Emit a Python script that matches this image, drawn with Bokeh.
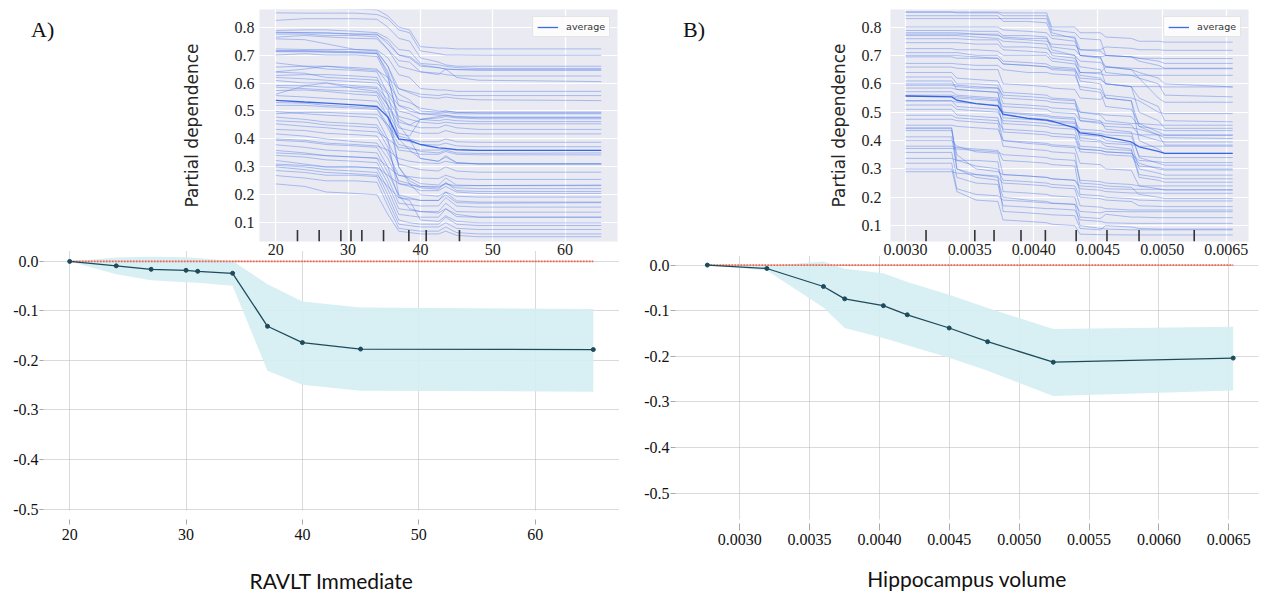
from bokeh.plotting import figure
from bokeh.models import Range1d, FixedTicker, Div
from bokeh.layouts import row, column
from bokeh.embed import file_html
from bokeh.resources import INLINE

# ---------------- data: panel A (RAVLT Immediate) ----------------
ravlt_grid = [20, 24, 27, 31, 34, 35.5, 37, 38.5, 40, 42.5, 43.5, 45, 48, 65]
ravlt_ice = [
    [0.866, 0.866, 0.866, 0.865, 0.862, 0.84, 0.80, 0.79, 0.73, 0.725, 0.725, 0.722, 0.722, 0.722],
    [0.851, 0.850, 0.850, 0.850, 0.845, 0.83, 0.79, 0.78, 0.715, 0.705, 0.700, 0.700, 0.699, 0.699],
    [0.824, 0.830, 0.830, 0.830, 0.828, 0.80, 0.76, 0.75, 0.690, 0.675, 0.665, 0.660, 0.660, 0.660],
    [0.788, 0.790, 0.790, 0.785, 0.780, 0.76, 0.72, 0.715, 0.670, 0.665, 0.660, 0.655, 0.652, 0.652],
    [0.782, 0.780, 0.780, 0.775, 0.775, 0.74, 0.70, 0.695, 0.665, 0.655, 0.650, 0.648, 0.645, 0.645],
    [0.780, 0.780, 0.778, 0.775, 0.772, 0.75, 0.70, 0.690, 0.660, 0.655, 0.650, 0.648, 0.648, 0.648],
    [0.775, 0.775, 0.770, 0.770, 0.765, 0.72, 0.66, 0.650, 0.640, 0.630, 0.650, 0.620, 0.610, 0.605],
    [0.764, 0.770, 0.765, 0.760, 0.758, 0.72, 0.68, 0.675, 0.640, 0.635, 0.630, 0.626, 0.625, 0.625],
    [0.758, 0.755, 0.740, 0.720, 0.715, 0.66, 0.58, 0.570, 0.560, 0.555, 0.560, 0.555, 0.555, 0.555],
    [0.722, 0.720, 0.720, 0.720, 0.718, 0.69, 0.63, 0.620, 0.580, 0.575, 0.575, 0.570, 0.570, 0.570],
    [0.715, 0.715, 0.712, 0.710, 0.705, 0.64, 0.52, 0.500, 0.490, 0.490, 0.495, 0.490, 0.490, 0.490],
    [0.715, 0.715, 0.715, 0.712, 0.710, 0.66, 0.56, 0.540, 0.500, 0.495, 0.500, 0.495, 0.493, 0.493],
    [0.712, 0.712, 0.710, 0.708, 0.705, 0.63, 0.45, 0.400, 0.330, 0.320, 0.335, 0.315, 0.310, 0.310],
    [0.700, 0.705, 0.700, 0.700, 0.695, 0.62, 0.47, 0.450, 0.440, 0.440, 0.450, 0.440, 0.434, 0.434],
    [0.672, 0.660, 0.650, 0.645, 0.640, 0.56, 0.40, 0.360, 0.330, 0.320, 0.340, 0.315, 0.311, 0.311],
    [0.657, 0.660, 0.660, 0.655, 0.650, 0.60, 0.54, 0.530, 0.510, 0.500, 0.500, 0.495, 0.496, 0.496],
    [0.640, 0.650, 0.660, 0.650, 0.645, 0.62, 0.58, 0.565, 0.550, 0.545, 0.550, 0.545, 0.540, 0.537],
    [0.639, 0.635, 0.620, 0.615, 0.610, 0.57, 0.52, 0.510, 0.490, 0.485, 0.485, 0.480, 0.478, 0.478],
    [0.627, 0.630, 0.630, 0.625, 0.620, 0.52, 0.30, 0.250, 0.230, 0.225, 0.240, 0.225, 0.222, 0.222],
    [0.620, 0.615, 0.610, 0.605, 0.600, 0.56, 0.50, 0.490, 0.470, 0.465, 0.470, 0.465, 0.462, 0.462],
    [0.609, 0.600, 0.600, 0.590, 0.585, 0.54, 0.48, 0.470, 0.460, 0.455, 0.460, 0.455, 0.454, 0.454],
    [0.591, 0.590, 0.585, 0.585, 0.580, 0.52, 0.46, 0.450, 0.470, 0.475, 0.480, 0.475, 0.472, 0.472],
    [0.585, 0.580, 0.575, 0.570, 0.565, 0.50, 0.42, 0.410, 0.470, 0.480, 0.485, 0.478, 0.476, 0.476],
    [0.573, 0.575, 0.570, 0.560, 0.555, 0.48, 0.30, 0.240, 0.200, 0.195, 0.210, 0.195, 0.192, 0.192],
    [0.560, 0.590, 0.600, 0.580, 0.570, 0.52, 0.44, 0.430, 0.420, 0.420, 0.430, 0.420, 0.418, 0.418],
    [0.555, 0.550, 0.545, 0.540, 0.535, 0.48, 0.41, 0.400, 0.390, 0.390, 0.400, 0.390, 0.388, 0.388],
    [0.530, 0.528, 0.520, 0.515, 0.510, 0.45, 0.38, 0.370, 0.355, 0.350, 0.360, 0.350, 0.348, 0.350],
    [0.520, 0.520, 0.515, 0.510, 0.505, 0.44, 0.36, 0.355, 0.345, 0.345, 0.355, 0.345, 0.343, 0.343],
    [0.498, 0.490, 0.485, 0.480, 0.475, 0.40, 0.20, 0.150, 0.140, 0.135, 0.150, 0.130, 0.120, 0.120],
    [0.490, 0.495, 0.495, 0.490, 0.488, 0.45, 0.40, 0.390, 0.380, 0.378, 0.385, 0.375, 0.372, 0.372],
    [0.478, 0.470, 0.460, 0.455, 0.450, 0.39, 0.31, 0.300, 0.290, 0.285, 0.300, 0.285, 0.281, 0.281],
    [0.465, 0.460, 0.450, 0.445, 0.440, 0.37, 0.24, 0.230, 0.215, 0.215, 0.230, 0.210, 0.205, 0.205],
    [0.454, 0.445, 0.440, 0.430, 0.425, 0.40, 0.37, 0.365, 0.360, 0.360, 0.365, 0.360, 0.359, 0.359],
    [0.434, 0.430, 0.420, 0.415, 0.410, 0.35, 0.27, 0.260, 0.240, 0.235, 0.260, 0.235, 0.233, 0.233],
    [0.418, 0.410, 0.400, 0.390, 0.385, 0.33, 0.25, 0.240, 0.225, 0.220, 0.245, 0.215, 0.212, 0.212],
    [0.400, 0.395, 0.385, 0.380, 0.375, 0.36, 0.33, 0.320, 0.315, 0.312, 0.320, 0.312, 0.311, 0.311],
    [0.395, 0.390, 0.380, 0.375, 0.370, 0.30, 0.19, 0.180, 0.110, 0.105, 0.125, 0.105, 0.100, 0.100],
    [0.379, 0.370, 0.360, 0.355, 0.350, 0.28, 0.20, 0.190, 0.180, 0.180, 0.210, 0.178, 0.174, 0.174],
    [0.359, 0.350, 0.340, 0.335, 0.330, 0.26, 0.17, 0.165, 0.160, 0.160, 0.190, 0.160, 0.156, 0.156],
    [0.350, 0.345, 0.340, 0.335, 0.332, 0.30, 0.27, 0.265, 0.260, 0.258, 0.270, 0.258, 0.255, 0.255],
    [0.341, 0.335, 0.325, 0.320, 0.315, 0.24, 0.15, 0.145, 0.140, 0.140, 0.170, 0.140, 0.138, 0.138],
    [0.323, 0.310, 0.300, 0.300, 0.295, 0.22, 0.13, 0.125, 0.120, 0.120, 0.150, 0.122, 0.120, 0.120],
    [0.310, 0.305, 0.300, 0.300, 0.298, 0.27, 0.24, 0.235, 0.230, 0.230, 0.240, 0.232, 0.233, 0.235],
    [0.305, 0.300, 0.290, 0.285, 0.280, 0.20, 0.11, 0.100, 0.095, 0.095, 0.120, 0.095, 0.090, 0.090],
    [0.300, 0.290, 0.280, 0.275, 0.270, 0.23, 0.19, 0.185, 0.180, 0.180, 0.200, 0.172, 0.170, 0.172],
    [0.287, 0.280, 0.270, 0.270, 0.265, 0.18, 0.095, 0.090, 0.085, 0.085, 0.100, 0.080, 0.076, 0.076],
    [0.269, 0.260, 0.250, 0.250, 0.245, 0.16, 0.08, 0.075, 0.070, 0.070, 0.085, 0.065, 0.060, 0.060],
    [0.239, 0.230, 0.210, 0.205, 0.200, 0.13, 0.07, 0.065, 0.060, 0.060, 0.070, 0.055, 0.050, 0.050],
]
ravlt_avg = [0.538, 0.532, 0.528, 0.522, 0.516, 0.478, 0.400, 0.395, 0.380, 0.368, 0.366, 0.362, 0.359, 0.359]
ravlt_deciles = [23.0, 26.0, 29.0, 30.4, 31.9, 34.9, 38.4, 40.8, 45.4]

ravlt_ale_x = [20, 24, 27, 30, 31, 34, 37, 40, 45, 65]
ravlt_ale = [0.0, -0.009, -0.016, -0.018, -0.020, -0.024, -0.131, -0.164, -0.177, -0.178]
ravlt_ale_hi = [0.0, 0.008, 0.0095, 0.0085, 0.007, 0.001, -0.046, -0.081, -0.093, -0.096]
ravlt_ale_lo = [0.0, -0.026, -0.038, -0.042, -0.043, -0.049, -0.221, -0.249, -0.261, -0.263]

# ---------------- data: panel B (Hippocampus volume) ----------------
hippo_grid = [0.00300, 0.00336, 0.00340, 0.00355, 0.00372, 0.00376, 0.00395, 0.00410, 0.00414,
              0.00432, 0.00436, 0.00452, 0.00456, 0.00476, 0.00482, 0.00497, 0.00502, 0.00555]
hippo_ice = [
    [0.853, 0.853, 0.853, 0.853, 0.853, 0.850, 0.850, 0.850, 0.800, 0.800, 0.780, 0.780, 0.765, 0.760, 0.750, 0.750, 0.747, 0.747],
    [0.853, 0.853, 0.850, 0.850, 0.850, 0.840, 0.840, 0.840, 0.790, 0.780, 0.760, 0.755, 0.700, 0.695, 0.680, 0.665, 0.655, 0.655],
    [0.840, 0.840, 0.840, 0.840, 0.840, 0.820, 0.820, 0.815, 0.770, 0.765, 0.720, 0.720, 0.730, 0.725, 0.720, 0.720, 0.718, 0.718],
    [0.830, 0.830, 0.830, 0.830, 0.830, 0.830, 0.830, 0.830, 0.780, 0.760, 0.700, 0.690, 0.660, 0.650, 0.640, 0.620, 0.600, 0.589],
    [0.800, 0.800, 0.800, 0.800, 0.800, 0.790, 0.785, 0.780, 0.760, 0.750, 0.700, 0.695, 0.640, 0.630, 0.620, 0.550, 0.535, 0.535],
    [0.788, 0.788, 0.788, 0.785, 0.785, 0.770, 0.770, 0.765, 0.730, 0.720, 0.700, 0.695, 0.700, 0.695, 0.690, 0.690, 0.689, 0.689],
    [0.780, 0.780, 0.780, 0.775, 0.775, 0.760, 0.755, 0.750, 0.740, 0.735, 0.720, 0.715, 0.700, 0.695, 0.690, 0.680, 0.672, 0.672],
    [0.775, 0.775, 0.775, 0.775, 0.770, 0.765, 0.760, 0.760, 0.720, 0.700, 0.640, 0.640, 0.660, 0.650, 0.620, 0.600, 0.560, 0.554],
    [0.770, 0.770, 0.770, 0.765, 0.760, 0.750, 0.745, 0.740, 0.700, 0.690, 0.660, 0.650, 0.600, 0.590, 0.500, 0.470, 0.443, 0.443],
    [0.759, 0.759, 0.759, 0.755, 0.755, 0.730, 0.730, 0.725, 0.710, 0.700, 0.680, 0.675, 0.660, 0.655, 0.654, 0.653, 0.653, 0.653],
    [0.745, 0.745, 0.745, 0.740, 0.740, 0.720, 0.715, 0.710, 0.690, 0.680, 0.630, 0.620, 0.600, 0.590, 0.550, 0.520, 0.470, 0.466],
    [0.724, 0.724, 0.720, 0.720, 0.715, 0.700, 0.700, 0.700, 0.680, 0.670, 0.640, 0.635, 0.630, 0.630, 0.630, 0.630, 0.630, 0.630],
    [0.710, 0.710, 0.710, 0.700, 0.700, 0.680, 0.675, 0.670, 0.660, 0.655, 0.610, 0.600, 0.550, 0.540, 0.450, 0.420, 0.410, 0.407],
    [0.700, 0.700, 0.700, 0.695, 0.690, 0.670, 0.665, 0.660, 0.650, 0.645, 0.580, 0.570, 0.520, 0.510, 0.460, 0.430, 0.420, 0.420],
    [0.695, 0.695, 0.690, 0.690, 0.690, 0.670, 0.665, 0.660, 0.655, 0.650, 0.620, 0.615, 0.600, 0.590, 0.590, 0.590, 0.589, 0.589],
    [0.672, 0.672, 0.670, 0.665, 0.665, 0.650, 0.640, 0.640, 0.635, 0.630, 0.590, 0.580, 0.550, 0.540, 0.400, 0.370, 0.355, 0.355],
    [0.659, 0.659, 0.655, 0.650, 0.650, 0.600, 0.595, 0.590, 0.585, 0.580, 0.550, 0.545, 0.560, 0.550, 0.540, 0.500, 0.495, 0.495],
    [0.640, 0.640, 0.620, 0.615, 0.610, 0.570, 0.565, 0.560, 0.550, 0.545, 0.470, 0.460, 0.450, 0.445, 0.440, 0.420, 0.384, 0.384],
    [0.624, 0.624, 0.600, 0.600, 0.595, 0.550, 0.545, 0.540, 0.535, 0.530, 0.480, 0.470, 0.440, 0.430, 0.340, 0.320, 0.313, 0.313],
    [0.610, 0.610, 0.580, 0.575, 0.570, 0.480, 0.475, 0.470, 0.465, 0.460, 0.410, 0.400, 0.390, 0.385, 0.380, 0.380, 0.380, 0.380],
    [0.600, 0.600, 0.595, 0.590, 0.585, 0.530, 0.525, 0.520, 0.515, 0.510, 0.500, 0.495, 0.490, 0.485, 0.450, 0.440, 0.435, 0.435],
    [0.595, 0.595, 0.590, 0.585, 0.585, 0.560, 0.555, 0.550, 0.545, 0.540, 0.500, 0.490, 0.470, 0.460, 0.460, 0.455, 0.454, 0.454],
    [0.585, 0.585, 0.580, 0.575, 0.570, 0.500, 0.490, 0.485, 0.480, 0.475, 0.420, 0.415, 0.400, 0.390, 0.300, 0.285, 0.278, 0.278],
    [0.572, 0.572, 0.560, 0.555, 0.550, 0.490, 0.480, 0.475, 0.470, 0.465, 0.440, 0.435, 0.430, 0.425, 0.420, 0.420, 0.418, 0.418],
    [0.560, 0.560, 0.555, 0.550, 0.545, 0.430, 0.425, 0.420, 0.415, 0.410, 0.360, 0.355, 0.350, 0.345, 0.310, 0.305, 0.300, 0.300],
    [0.557, 0.555, 0.550, 0.545, 0.540, 0.520, 0.515, 0.510, 0.500, 0.495, 0.470, 0.465, 0.460, 0.455, 0.420, 0.400, 0.395, 0.395],
    [0.540, 0.540, 0.520, 0.515, 0.510, 0.460, 0.455, 0.450, 0.445, 0.440, 0.380, 0.375, 0.370, 0.365, 0.270, 0.260, 0.253, 0.253],
    [0.540, 0.540, 0.535, 0.530, 0.525, 0.500, 0.495, 0.490, 0.485, 0.480, 0.400, 0.395, 0.380, 0.370, 0.280, 0.270, 0.265, 0.265],
    [0.525, 0.525, 0.510, 0.505, 0.500, 0.470, 0.465, 0.460, 0.455, 0.450, 0.430, 0.425, 0.420, 0.415, 0.345, 0.340, 0.340, 0.340],
    [0.510, 0.510, 0.490, 0.485, 0.480, 0.400, 0.390, 0.385, 0.380, 0.375, 0.320, 0.315, 0.300, 0.295, 0.240, 0.230, 0.226, 0.226],
    [0.489, 0.489, 0.480, 0.475, 0.470, 0.440, 0.435, 0.430, 0.425, 0.420, 0.370, 0.365, 0.360, 0.355, 0.320, 0.300, 0.296, 0.296],
    [0.475, 0.475, 0.470, 0.465, 0.460, 0.380, 0.370, 0.365, 0.360, 0.355, 0.250, 0.245, 0.240, 0.235, 0.210, 0.200, 0.196, 0.196],
    [0.454, 0.454, 0.450, 0.445, 0.440, 0.400, 0.395, 0.390, 0.385, 0.380, 0.370, 0.365, 0.360, 0.355, 0.330, 0.325, 0.322, 0.322],
    [0.445, 0.445, 0.300, 0.280, 0.270, 0.250, 0.245, 0.240, 0.235, 0.230, 0.170, 0.165, 0.160, 0.155, 0.155, 0.155, 0.155, 0.155],
    [0.442, 0.442, 0.330, 0.310, 0.300, 0.260, 0.255, 0.250, 0.245, 0.240, 0.200, 0.195, 0.190, 0.185, 0.170, 0.168, 0.167, 0.167],
    [0.435, 0.435, 0.350, 0.300, 0.290, 0.280, 0.275, 0.270, 0.265, 0.260, 0.230, 0.225, 0.220, 0.215, 0.215, 0.215, 0.214, 0.214],
    [0.413, 0.413, 0.300, 0.270, 0.260, 0.200, 0.190, 0.185, 0.180, 0.175, 0.150, 0.145, 0.150, 0.149, 0.149, 0.149, 0.149, 0.149],
    [0.400, 0.400, 0.380, 0.360, 0.355, 0.280, 0.275, 0.270, 0.265, 0.260, 0.240, 0.235, 0.230, 0.228, 0.228, 0.228, 0.226, 0.226],
    [0.380, 0.380, 0.375, 0.370, 0.365, 0.330, 0.325, 0.320, 0.315, 0.310, 0.210, 0.205, 0.200, 0.195, 0.190, 0.188, 0.187, 0.187],
    [0.372, 0.372, 0.370, 0.365, 0.360, 0.350, 0.345, 0.340, 0.335, 0.330, 0.260, 0.255, 0.250, 0.245, 0.240, 0.240, 0.240, 0.240],
    [0.358, 0.358, 0.270, 0.250, 0.245, 0.170, 0.165, 0.160, 0.160, 0.155, 0.120, 0.115, 0.110, 0.108, 0.108, 0.108, 0.108, 0.108],
    [0.337, 0.337, 0.330, 0.330, 0.325, 0.220, 0.215, 0.210, 0.205, 0.200, 0.130, 0.125, 0.140, 0.130, 0.130, 0.128, 0.128, 0.128],
    [0.320, 0.320, 0.230, 0.210, 0.205, 0.190, 0.185, 0.180, 0.178, 0.175, 0.100, 0.090, 0.088, 0.085, 0.085, 0.085, 0.085, 0.085],
    [0.300, 0.300, 0.220, 0.190, 0.185, 0.120, 0.115, 0.110, 0.105, 0.100, 0.070, 0.068, 0.068, 0.067, 0.067, 0.067, 0.067, 0.067],
    [0.290, 0.290, 0.285, 0.280, 0.275, 0.150, 0.145, 0.140, 0.138, 0.135, 0.090, 0.085, 0.100, 0.095, 0.090, 0.088, 0.088, 0.088],
]
hippo_avg = [0.557, 0.554, 0.542, 0.530, 0.522, 0.493, 0.478, 0.472, 0.468, 0.445, 0.427, 0.418, 0.413,
             0.395, 0.378, 0.362, 0.355, 0.355]
hippo_deciles = [0.00316, 0.00354, 0.00369, 0.00390, 0.00409, 0.00433, 0.00457, 0.00482, 0.00525]

hippo_ale_x = [0.002768, 0.003194, 0.003599, 0.003751, 0.004028, 0.004199, 0.004499, 0.004774, 0.005244, 0.006532]
hippo_ale = [0.0, -0.0075, -0.047, -0.074, -0.089, -0.109, -0.138, -0.168, -0.213, -0.204]
hippo_ale_hi = [0.0, -0.002, 0.008, -0.008, -0.018, -0.037, -0.065, -0.094, -0.140, -0.135]
hippo_ale_lo = [0.0, -0.012, -0.093, -0.138, -0.160, -0.176, -0.203, -0.232, -0.287, -0.275]

# ---------------- ticks / labels ----------------
inset_y_ticks = [0.1, 0.2, 0.3, 0.4, 0.5, 0.6, 0.7, 0.8]
ravlt_ticks = [20, 30, 40, 50, 60]
ravlt_labels = ["20", "30", "40", "50", "60"]
hippo_inset_ticks = [0.003, 0.0035, 0.004, 0.0045, 0.005, 0.0055]
hippo_inset_labels = ["0.0030", "0.0035", "0.0040", "0.0045", "0.0050", "0.0065"]
hippo_ticks = [0.003, 0.0035, 0.004, 0.0045, 0.005, 0.0055, 0.006, 0.0065]
hippo_labels = ["0.0030", "0.0035", "0.0040", "0.0045", "0.0050", "0.0055", "0.0060", "0.0065"]
ale_y_ticks = [0.0, -0.1, -0.2, -0.3, -0.4, -0.5]
ale_y_labels = ["0.0", "-0.1", "-0.2", "-0.3", "-0.4", "-0.5"]

SERIF = "Liberation Serif, Times New Roman, serif"
ICE_COLOR = "#4070e8"
AVG_COLOR = "#2a5ce0"
ALE_COLOR = "#1d4b5b"
BAND_COLOR = "#d4edf3"


def make_inset(grid, ice, avg, deciles, x_rng, y_rng, fw, mbl, mbr, xticks, xlabels, lab_standoff, tick_standoff):
    p = figure(frame_width=fw, frame_height=232, x_range=Range1d(*x_rng), y_range=Range1d(*y_rng),
               min_border_left=mbl, min_border_right=mbr, min_border_top=9, min_border_bottom=21,
               output_backend="svg", toolbar_location=None)
    p.background_fill_color = "#EAEAF2"
    p.border_fill_color = "white"
    p.outline_line_color = None
    p.xaxis.ticker = FixedTicker(ticks=xticks)
    p.yaxis.ticker = FixedTicker(ticks=inset_y_ticks)
    p.xaxis.major_label_overrides = {t: l for t, l in zip(xticks, xlabels)}
    p.grid.grid_line_color = "white"
    p.grid.grid_line_width = 1.2
    p.axis.axis_line_color = None
    p.axis.major_tick_line_color = None
    p.axis.minor_tick_line_color = None
    p.axis.major_tick_out = 0
    p.axis.major_tick_in = 0
    p.xaxis.major_label_text_font = SERIF
    p.yaxis.major_label_text_font = SERIF
    p.xaxis.major_label_text_font_size = "16px"
    p.yaxis.major_label_text_font_size = "16px"
    p.axis.major_label_text_color = "#222222"
    p.xaxis.major_label_standoff = 2
    p.yaxis.major_label_standoff = tick_standoff
    p.yaxis.axis_label = "Partial dependence"
    p.yaxis.axis_label_text_font = "DejaVu Sans"
    p.yaxis.axis_label_text_font_size = "17px"
    p.yaxis.axis_label_text_font_style = "normal"
    p.yaxis.axis_label_text_color = "#262626"
    p.yaxis.axis_label_standoff = lab_standoff

    p.multi_line(xs=[grid] * len(ice), ys=ice, line_color=ICE_COLOR, line_alpha=0.4, line_width=1)
    p.line(grid, avg, line_color=AVG_COLOR, line_alpha=0.9, line_width=1.3, legend_label="average")
    y0 = y_rng[0]
    y1 = y_rng[0] + 0.05 * (y_rng[1] - y_rng[0])
    p.segment(x0=deciles, y0=[y0] * len(deciles), x1=deciles, y1=[y1] * len(deciles),
              line_color="#333333", line_width=1.6)

    lg = p.legend[0]
    lg.location = "top_right"
    lg.margin = 7
    lg.padding = 4
    lg.spacing = 0
    lg.glyph_width = 21
    lg.glyph_height = 10
    lg.label_height = 10
    lg.label_standoff = 8
    lg.label_text_font = "DejaVu Sans"
    lg.label_text_font_size = "9.5px"
    lg.label_text_color = "#333333"
    lg.border_line_color = "#cccccc"
    lg.background_fill_alpha = 0.85
    return p


def make_ale(xv, yv, hi, lo, x_rng, y_rng, fw, fh, mbl, mbr, mbt, mbb, xticks, xlabels, xlabel,
             tick_in, tick_out, lab_standoff, label_standoff, ytick_out):
    p = figure(frame_width=fw, frame_height=fh, x_range=Range1d(*x_rng), y_range=Range1d(*y_rng),
               min_border_left=mbl, min_border_right=mbr, min_border_top=mbt, min_border_bottom=mbb,
               output_backend="svg", toolbar_location=None, margin=(-14, 0, 0, 0))
    p.background_fill_alpha = 0
    p.border_fill_alpha = 0
    p.outline_line_color = None
    p.xaxis.ticker = FixedTicker(ticks=xticks)
    p.xaxis.major_label_overrides = {t: l for t, l in zip(xticks, xlabels)}
    p.yaxis.ticker = FixedTicker(ticks=ale_y_ticks)
    p.yaxis.major_label_overrides = {t: l for t, l in zip(ale_y_ticks, ale_y_labels)}
    p.grid.grid_line_color = "#b4b4b4"
    p.grid.grid_line_dash = "1 1"
    p.grid.grid_line_width = 1
    p.axis.axis_line_color = None
    p.axis.minor_tick_line_color = None
    p.axis.major_tick_line_color = "#a8a8a8"
    p.xaxis.major_label_text_font = SERIF
    p.yaxis.major_label_text_font = SERIF
    p.xaxis.major_label_text_font_size = "16px"
    p.yaxis.major_label_text_font_size = "16px"
    p.axis.major_label_text_color = "#111111"
    p.xaxis.major_tick_in = tick_in
    p.xaxis.major_tick_out = tick_out
    p.xaxis.major_label_standoff = label_standoff
    p.yaxis.major_tick_in = 0
    p.yaxis.major_tick_out = ytick_out
    p.yaxis.major_label_standoff = 1
    p.xaxis.axis_label = xlabel
    p.xaxis.axis_label_text_font = "Lato"
    p.xaxis.axis_label_text_font_size = "21px"
    p.xaxis.axis_label_text_font_style = "normal"
    p.xaxis.axis_label_text_color = "#111111"
    p.xaxis.axis_label_standoff = lab_standoff

    p.varea(x=xv, y1=lo, y2=hi, fill_color=BAND_COLOR, fill_alpha=0.9)
    p.line([xv[0], xv[-1]], [0, 0], line_color="#ec6450", line_dash="2 1", line_width=1.8)
    p.line(xv, yv, line_color=ALE_COLOR, line_width=1.3)
    p.scatter(xv, yv, size=4, color=ALE_COLOR)
    return p


def panel_label(txt, left):
    return Div(text=('<div style="font-family:\'Liberation Serif\',serif;font-size:22px;line-height:22px;'
                     'margin-left:%dpx;margin-top:19px;color:#111111">%s</div>' % (left, txt)),
               width=158, height=262, margin=(0, 0, 0, 0))


inset_a = make_inset(ravlt_grid, ravlt_ice, ravlt_avg, ravlt_deciles, (17.75, 67.25), (0.033, 0.863),
                     358, 101, 11, ravlt_ticks, ravlt_labels, 30, 5)
inset_b = make_inset(hippo_grid, hippo_ice, hippo_avg, hippo_deciles, (0.002883, 0.005673), (0.044, 0.862),
                     358, 104, 15, hippo_inset_ticks, hippo_inset_labels, 10, 9)

ale_a = make_ale(ravlt_ale_x, ravlt_ale, ravlt_ale_hi, ravlt_ale_lo, (17.75, 67.25), (-0.503, 0.022),
                 576, 260, 43, 9, 2, 82, ravlt_ticks, ravlt_labels, "RAVLT Immediate",
                 -9, 14, 25, 4, 4)
ale_b = make_ale(hippo_ale_x, hippo_ale, hippo_ale_hi, hippo_ale_lo, (0.00254, 0.006713), (-0.558, 0.021),
                 583, 264, 47, 5, 7, 73, hippo_ticks, hippo_labels, "Hippocampus volume",
                 -4, 11, 18, 3, 5)

col_a = column(row(panel_label("A)", 31), inset_a), ale_a)
col_b = column(row(panel_label("B)", 55), inset_b), ale_b)
layout = row(col_a, col_b)

open("out.html", "w").write(file_html(layout, INLINE))
